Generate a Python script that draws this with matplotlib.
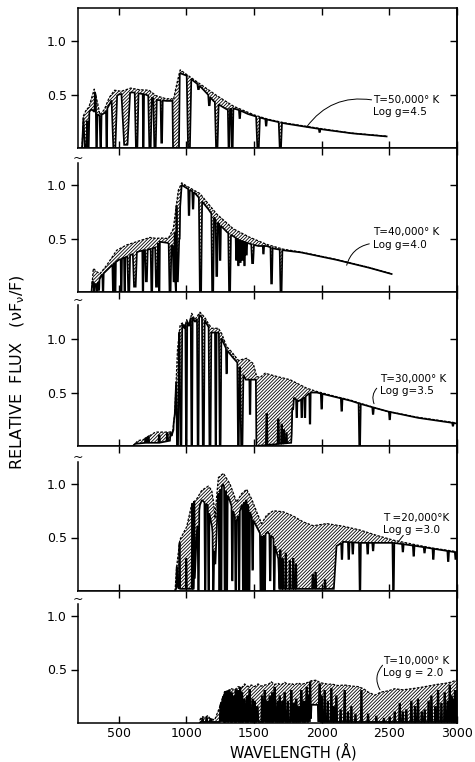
import numpy as np
import matplotlib
matplotlib.use("Agg")
import matplotlib.pyplot as plt

plt.rcParams['font.family'] = ['DejaVu Sans']
plt.rcParams['hatch.linewidth'] = 0.6

XTICKS = [500, 1000, 1500, 2000, 2500, 3000]
XTICK_LABELS = ["500", "1000", "1500", "2000", "2500", "3000"]
YTICKS = [0.5, 1.0]
YTICK_LABELS = ["0.5", "1.0"]
XLABEL = "WAVELENGTH (Å)"
YLABEL = r"RELATIVE  FLUX   ($\mathregular{\nu F_{\nu}/F}$)"
LABELS = ["T=50,000° K\nLog g=4.5", "T=40,000° K\nLog g=4.0", "T=30,000° K\nLog g=3.5",
          "T =20,000°K\nLog g =3.0", "T=10,000° K\nLog g = 2.0"]

# ---------------- Panel 1 : T=50,000 K ----------------
env1_w = [230, 240, 262, 280, 320, 345, 362, 395, 430, 470, 520, 590, 650, 725, 775, 850, 895, 905, 930, 955,
          1005, 1100, 1225, 1350, 1500, 1600, 1725, 1850, 2000, 2215, 2480]
env1_f = [0.0, 0.30, 0.36, 0.38, 0.55, 0.42, 0.31, 0.36, 0.47, 0.54, 0.53, 0.56, 0.545, 0.54, 0.49, 0.46, 0.46, 0.45, 0.60, 0.73,
          0.685, 0.60, 0.49, 0.39, 0.31, 0.27, 0.235, 0.21, 0.18, 0.14, 0.11]
base1_w = [230, 236, 300, 360, 400, 450, 500, 600, 700, 780, 850, 898, 902, 946, 952, 1005, 1100, 1160, 1200, 1260,
           1300, 1350, 1400, 1450, 1500, 1600, 1725, 1850, 2000, 2215, 2480]
base1_f = [0.0, 0.28, 0.36, 0.30, 0.33, 0.45, 0.50, 0.52, 0.50, 0.45, 0.44, 0.44, 0.0, 0.0, 0.70, 0.675, 0.58, 0.50, 0.44, 0.39,
           0.36, 0.37, 0.35, 0.32, 0.30, 0.265, 0.23, 0.205, 0.175, 0.138, 0.108]
dip1_w = [255, 276, 336, 367, 412, 468, 553, 633, 683, 732, 769, 818, 1020, 1090, 1170, 1225, 1315, 1340, 1395, 1530, 1590, 1695, 1985]
dip1_f = [0.0, 0.0, 0.0, 0.0, 0.0, 0.0, 0.03, 0.0, 0.0, 0.0, 0.0, 0.05, 0.0, 0.55, 0.40, 0.0, 0.0, 0.0, 0.28, 0.0, 0.21, 0.0, 0.15]
dip1_hw = [15, 8, 8, 7, 5, 20, 32, 14, 5, 13, 13, 8, 17, 8, 8, 14, 8, 8, 6, 14, 6, 12, 6]
spk1_w = [328]
spk1_f = [0.55]
spk1_hw = [6]

# ---------------- Panel 2 : T=40,000 K ----------------
env2_w = [300, 313, 338, 362, 412, 486, 560, 658, 732, 781, 806, 867, 904, 941, 966, 1003, 1101, 1224, 1348, 1471,
          1594, 1717, 1840, 2086, 2333, 2517]
env2_f = [0.0, 0.22, 0.19, 0.17, 0.25, 0.39, 0.44, 0.48, 0.51, 0.50, 0.505, 0.50, 0.59, 0.95, 1.02, 0.99, 0.92, 0.73, 0.59, 0.51,
          0.445, 0.40, 0.375, 0.31, 0.235, 0.17]
base2_w = [300, 305, 340, 370, 410, 450, 500, 560, 650, 730, 780, 800, 860, 900, 906, 938, 955, 966, 1003, 1060,
           1101, 1160, 1224, 1300, 1348, 1400, 1471, 1530, 1594, 1650, 1717, 1840, 2086, 2333, 2517]
base2_f = [0.0, 0.10, 0.06, 0.15, 0.20, 0.25, 0.30, 0.33, 0.38, 0.40, 0.42, 0.47, 0.46, 0.43, 0.10, 0.10, 0.80, 1.0, 0.97, 0.93,
           0.87, 0.78, 0.66, 0.56, 0.52, 0.48, 0.45, 0.43, 0.43, 0.405, 0.39, 0.372, 0.308, 0.233, 0.168]
dip2_w = [320, 340, 355, 385, 460, 475, 520, 545, 575, 620, 680, 705, 745, 780, 800, 880, 925, 940, 950, 1020,
          1050, 1105, 1195, 1225, 1250, 1320, 1370, 1385, 1400, 1415, 1430, 1445, 1490, 1570, 1630, 1700]
dip2_f = [0.0, 0.0, 0.02, 0.0, 0.0, 0.0, 0.0, 0.0, 0.0, 0.05, 0.0, 0.1, 0.0, 0.05, 0.0, 0.0, 0.0, 0.45, 0.5, 0.72,
          0.78, 0.0, 0.0, 0.15, 0.3, 0.0, 0.3, 0.25, 0.28, 0.3, 0.25, 0.35, 0.27, 0.36, 0.08, 0.0]
dip2_hw = [5, 4, 4, 5, 6, 5, 5, 5, 10, 15, 5, 10, 8, 10, 5, 10, 6, 5, 4, 6,
           6, 12, 10, 8, 6, 10, 5, 5, 5, 5, 5, 5, 10, 5, 8, 10]
spk2_w = [915, 928]
spk2_f = [0.55, 0.8]
spk2_hw = [4, 4]

# ---------------- Panel 3 : T=30,000 K ----------------
env3_w = [606, 643, 683, 766, 781, 877, 900, 915, 935, 954, 971, 985, 1003, 1020, 1040, 1064, 1101, 1138, 1160, 1188,
          1237, 1262, 1298, 1335, 1385, 1446, 1495, 1520, 1545, 1582, 1668, 1766, 1890, 1963, 2111, 2210, 2283, 2480, 2702, 2973,
          3000]
env3_f = [0.0, 0.05, 0.06, 0.125, 0.13, 0.13, 0.14, 0.30, 0.90, 1.13, 1.15, 1.10, 1.18, 1.12, 1.24, 1.18, 1.25, 1.20, 1.15, 1.10,
          1.10, 1.05, 0.93, 0.88, 0.80, 0.82, 0.77, 0.65, 0.64, 0.68, 0.65, 0.62, 0.54, 0.51, 0.46, 0.43, 0.40, 0.325, 0.27, 0.22,
          0.215]
base3_w = [606, 620, 700, 800, 880, 905, 925, 954, 971, 1003, 1040, 1064, 1101, 1138, 1188, 1237, 1262, 1298, 1335, 1377,
           1440, 1514, 1518, 1775, 1795, 1830, 1870, 1914, 1963, 2111, 2210, 2283, 2480, 2702, 2973, 3000]
base3_f = [0.0, 0.02, 0.03, 0.03, 0.05, 0.15, 0.85, 1.10, 1.13, 1.15, 1.22, 1.16, 1.22, 1.17, 1.06, 1.06, 1.0, 0.90, 0.84, 0.78,
           0.62, 0.62, 0.0, 0.03, 0.45, 0.42, 0.45, 0.50, 0.50, 0.455, 0.425, 0.395, 0.325, 0.265, 0.215, 0.21]
dip3_w = [935, 960, 1000, 1040, 1087, 1126, 1175, 1218, 1250, 1298, 1385, 1410, 1471, 1816, 1853, 1877, 1914, 2000, 2148, 2281,
          2380, 2503, 2970]
dip3_f = [0.0, 0.0, 0.0, 0.0, 0.0, 0.0, 0.0, 0.0, 0.0, 0.68, 0.0, 0.0, 0.3, 0.27, 0.27, 0.27, 0.21, 0.35, 0.33, 0.0,
          0.3, 0.25, 0.19]
dip3_hw = [10, 10, 7, 7, 8, 10, 10, 6, 9, 5, 8, 12, 5, 5, 5, 5, 5, 6, 6, 8,
           6, 6, 6]
spk3_w = [700, 720, 800, 860, 885, 1594, 1680, 1705, 1720, 1740, 1785]
spk3_f = [0.08, 0.1, 0.1, 0.12, 0.12, 0.30, 0.25, 0.20, 0.15, 0.12, 0.35]
spk3_hw = [6, 6, 6, 6, 6, 6, 6, 5, 5, 5, 6]

# ---------------- Panel 4 : T=20,000 K ----------------
env4_w = [917, 929, 953, 1003, 1040, 1077, 1114, 1163, 1188, 1205, 1212, 1222, 1237, 1274, 1323, 1372, 1409, 1446, 1483, 1520,
          1557, 1594, 1643, 1717, 1791, 1865, 1939, 2037, 2160, 2283, 2406, 2530, 2702, 2825, 2985, 3000]
env4_f = [0.0, 0.23, 0.48, 0.60, 0.81, 0.86, 0.94, 0.98, 0.94, 0.80, 0.68, 0.85, 1.06, 1.10, 1.00, 0.83, 0.91, 0.95, 0.86, 0.74,
          0.63, 0.71, 0.75, 0.74, 0.70, 0.645, 0.61, 0.63, 0.605, 0.57, 0.52, 0.475, 0.43, 0.40, 0.37, 0.365]
base4_w = [917, 935, 945, 1060, 1075, 1100, 1115, 1160, 1190, 1215, 1235, 1270, 1320, 1370, 1410, 1445, 1480, 1520, 1560, 1600,
           1640, 1680, 1688, 2090, 2110, 2160, 2283, 2406, 2530, 2702, 2825, 3000]
base4_f = [0.0, 0.05, 0.02, 0.02, 0.5, 0.8, 0.85, 0.8, 0.6, 0.25, 0.9, 1.0, 0.85, 0.65, 0.8, 0.85, 0.7, 0.6, 0.5, 0.55,
           0.5, 0.3, 0.02, 0.02, 0.42, 0.46, 0.45, 0.45, 0.45, 0.42, 0.395, 0.36]
dip4_w = [1090, 1140, 1165, 1200, 1245, 1258, 1285, 1300, 1340, 1365, 1390, 1420, 1435, 1450, 1465, 1490, 1550, 1565, 1580, 1620,
          1650, 2150, 2200, 2230, 2283, 2340, 2380, 2530, 2600, 2680, 2760, 2825, 2935, 2990]
dip4_f = [0.0, 0.0, 0.0, 0.0, 0.0, 0.0, 0.0, 0.0, 0.1, 0.0, 0.0, 0.0, 0.0, 0.0, 0.0, 0.2, 0.0, 0.0, 0.0, 0.1,
          0.0, 0.3, 0.3, 0.35, 0.0, 0.35, 0.38, 0.0, 0.37, 0.33, 0.36, 0.3, 0.28, 0.3]
dip4_hw = [6, 6, 6, 6, 6, 5, 6, 6, 6, 6, 6, 6, 5, 5, 6, 6, 6, 5, 6, 6,
           6, 6, 6, 6, 7, 6, 6, 7, 6, 6, 6, 6, 6, 6]
spk4_w = [930, 950, 1000, 1045, 1058, 1695, 1712, 1735, 1765, 1790, 1810, 1935, 1955, 2025]
spk4_f = [0.22, 0.45, 0.3, 0.85, 0.85, 0.38, 0.3, 0.35, 0.28, 0.3, 0.25, 0.15, 0.17, 0.1]
spk4_hw = [4, 5, 4, 5, 5, 6, 5, 5, 5, 5, 5, 6, 6, 5]

# ---------------- Panel 5 : T=10,000 K ----------------
env5_w = [1099, 1120, 1136, 1160, 1175, 1210, 1247, 1284, 1310, 1333, 1360, 1382, 1410, 1431, 1455, 1481, 1505, 1530, 1555, 1579,
          1605, 1628, 1650, 1678, 1700, 1727, 1750, 1776, 1800, 1826, 1850, 1875, 1900, 1924, 1961, 1990, 2022, 2050, 2072, 2120,
          2170, 2220, 2269, 2310, 2343, 2392, 2441, 2490, 2540, 2600, 2663, 2720, 2786, 2850, 2909, 2950, 2995, 3000]
env5_f = [0.03, 0.06, 0.05, 0.07, 0.04, 0.03, 0.15, 0.29, 0.30, 0.32, 0.31, 0.34, 0.33, 0.365, 0.34, 0.355, 0.34, 0.365, 0.345, 0.355,
          0.36, 0.385, 0.36, 0.37, 0.355, 0.38, 0.36, 0.37, 0.355, 0.375, 0.36, 0.37, 0.38, 0.395, 0.40, 0.375, 0.37, 0.36, 0.365, 0.35,
          0.355, 0.345, 0.34, 0.32, 0.29, 0.26, 0.29, 0.30, 0.32, 0.31, 0.32, 0.33, 0.345, 0.36, 0.37, 0.38, 0.40, 0.40]
base5_w = [1099, 1105, 1920, 1925, 1972, 1977, 3000]
base5_f = [0.0, 0.01, 0.01, 0.17, 0.17, 0.01, 0.01]
dip5_w = []
dip5_f = []
dip5_hw = []
spk5_w = [1120, 1150, 1180, 1255, 1270, 1285, 1300, 1318, 1335, 1350, 1365, 1380, 1398, 1412, 1430, 1450, 1468, 1490, 1505, 1525,
          1560, 1580, 1600, 1616, 1635, 1653, 1675, 1690, 1710, 1727, 1750, 1776, 1795, 1813, 1830, 1850, 1870, 1890, 1905, 1915,
          1985, 2000, 2022, 2045, 2072, 2090, 2109, 2140, 2170, 2195, 2220, 2250, 2294, 2343, 2404, 2460, 2503, 2540, 2577, 2600,
          2626, 2663, 2690, 2712, 2740, 2761, 2790, 2811, 2840, 2860, 2885, 2909, 2930, 2946, 2960, 2971, 2985, 2995]
spk5_f = [0.04, 0.05, 0.04, 0.22, 0.27, 0.29, 0.30, 0.31, 0.28, 0.25, 0.31, 0.30, 0.33, 0.28, 0.22, 0.25, 0.31, 0.22, 0.2, 0.15,
          0.25, 0.3, 0.2, 0.25, 0.28, 0.33, 0.2, 0.25, 0.2, 0.28, 0.2, 0.3, 0.18, 0.22, 0.15, 0.3, 0.2, 0.33, 0.25, 0.38,
          0.36, 0.25, 0.3, 0.2, 0.32, 0.15, 0.25, 0.12, 0.3, 0.1, 0.15, 0.08, 0.3, 0.08, 0.06, 0.04, 0.05, 0.1, 0.18, 0.1,
          0.12, 0.2, 0.15, 0.22, 0.1, 0.12, 0.2, 0.25, 0.15, 0.3, 0.18, 0.28, 0.2, 0.35, 0.25, 0.22, 0.3, 0.3]
spk5_hw = [6, 6, 6, 8, 8, 5, 8, 8, 6, 8, 6, 8, 6, 6, 8, 6, 8, 6, 6, 8,
           6, 8, 6, 6, 6, 8, 6, 6, 6, 8, 6, 8, 6, 6, 6, 8, 6, 8, 6, 6,
           8, 6, 6, 6, 6, 5, 6, 5, 6, 5, 5, 5, 5, 5, 5, 5, 5, 5, 6, 5,
           5, 6, 5, 6, 5, 5, 5, 6, 5, 6, 5, 6, 5, 6, 5, 5, 5, 4]

PANELS = [
    (env1_w, env1_f, base1_w, base1_f, dip1_w, dip1_f, dip1_hw, spk1_w, spk1_f, spk1_hw),
    (env2_w, env2_f, base2_w, base2_f, dip2_w, dip2_f, dip2_hw, spk2_w, spk2_f, spk2_hw),
    (env3_w, env3_f, base3_w, base3_f, dip3_w, dip3_f, dip3_hw, spk3_w, spk3_f, spk3_hw),
    (env4_w, env4_f, base4_w, base4_f, dip4_w, dip4_f, dip4_hw, spk4_w, spk4_f, spk4_hw),
    (env5_w, env5_f, base5_w, base5_f, dip5_w, dip5_f, dip5_hw, spk5_w, spk5_f, spk5_hw),
]

# layout (pixels from the top of a 475 x 762 figure)
W, H = 475, 762
AX_LEFT, AX_RIGHT = 78, 457
PANEL_TOP = [8, 148, 292, 446, 591]
PANEL_BOT = [148, 292, 446, 591, 723]
PX_PER_UNIT = 107.0
SPINE_TOP = [None, 1.21, 1.32, 1.21, 1.11]
TEXT_POS = [(2380, 0.395), (2379, 0.50), (2431, 0.57), (2456, 0.63), (2456, 0.525)]
LEADERS = [((2369, 0.45), (1889, 0.196), 0.3), ((2352, 0.45), (2185, 0.25), 0.3),
           ((2407, 0.54), (2387, 0.395), 0.3), ((2603, 0.52), (2566, 0.46), 0.0),
           ((2450, 0.54), (2431, 0.31), 0.35)]


def render(ax, env_w, env_f, base_w, base_f, dip_w, dip_f, dip_hw, spk_w, spk_f, spk_hw):
    grid = np.arange(env_w[0], env_w[-1] + 0.5, 1.0)
    env = np.interp(grid, env_w, env_f)
    base = np.minimum(np.interp(grid, base_w, base_f), env)
    spec = base.copy()
    for w0, f0, hw in zip(dip_w, dip_f, dip_hw):
        d = np.abs(grid - w0)
        core = 0.4 * hw
        t = np.clip((d - core) / (hw - core), 0, 1)
        prof = np.where(d <= hw, f0 + (base - f0) * t, np.inf)
        spec = np.minimum(spec, prof)
    lower = spec.copy()
    for w0, f0, hw in zip(spk_w, spk_f, spk_hw):
        d = np.abs(grid - w0)
        core = 0.4 * hw
        t = np.clip((d - core) / (hw - core), 0, 1)
        prof = np.where(d <= hw, f0 + (lower - f0) * t, -np.inf)
        spec = np.maximum(spec, prof)
    spec = np.minimum(spec, env)
    lower = np.minimum(lower, spec)
    ax.fill_between(grid, spec, env, facecolor='white', edgecolor='black',
                    hatch='//////////', linewidth=0, zorder=1)
    ax.fill_between(grid, lower, spec, where=spec > lower + 1e-6, color='black',
                    linewidth=0, zorder=2)
    ax.plot(env_w, env_f, ls=(0, (2.0, 1.2)), lw=0.9, color='black', zorder=3)
    ax.plot(grid, spec, lw=1.25, color='black', zorder=4, solid_joinstyle='miter')


fig = plt.figure(figsize=(W / 100, H / 100), dpi=100)
for i, data in enumerate(PANELS):
    top, bot = PANEL_TOP[i], PANEL_BOT[i]
    ax = fig.add_axes([AX_LEFT / W, 1 - bot / H, (AX_RIGHT - AX_LEFT) / W, (bot - top) / H])
    ax.set_xlim(200, 3000)
    ax.set_ylim(0, (bot - top) / PX_PER_UNIT)
    render(ax, *data)
    for s in ax.spines.values():
        s.set_linewidth(1.1)
    if SPINE_TOP[i] is not None:
        ax.spines['left'].set_bounds(0, SPINE_TOP[i])
        ax.text(200, SPINE_TOP[i] - 0.02, "~", ha='center', va='bottom', fontsize=9, clip_on=False)
    ax.set_xticks(XTICKS)
    ax.set_xticklabels(XTICK_LABELS)
    ax.tick_params(axis='x', direction='in', top=True, bottom=True, length=5, width=1,
                   labelbottom=(i == 4), labelsize=9, pad=3)
    ax.set_yticks(YTICKS)
    ax.set_yticklabels(YTICK_LABELS)
    ax.tick_params(axis='y', direction='out', left=True, right=False, length=5, width=1,
                   labelsize=9, pad=3)
    sec = ax.secondary_yaxis('right')
    sec.set_yticks(YTICKS)
    sec.tick_params(direction='in', length=5, width=1, labelright=False)
    sec.spines['right'].set_linewidth(1.1)
    tx, ty = TEXT_POS[i]
    ax.text(tx, ty, LABELS[i], ha='left', va='center', fontsize=7.5, linespacing=1.25, zorder=6)
    (sx, sy), (ex, ey), rad = LEADERS[i]
    ax.annotate("", xy=(ex, ey), xytext=(sx, sy),
                arrowprops=dict(arrowstyle='-', lw=0.7, color='black',
                                connectionstyle=f"arc3,rad={rad}", shrinkA=0, shrinkB=0), zorder=6)

fig.text(293 / W, 1 - 752 / H, XLABEL, ha='center', va='center', fontsize=10.5)
fig.text(18 / W, 1 - 372 / H, YLABEL, rotation=90, ha='center', va='center', fontsize=11.5)
fig.savefig("out.png", dpi=100)
